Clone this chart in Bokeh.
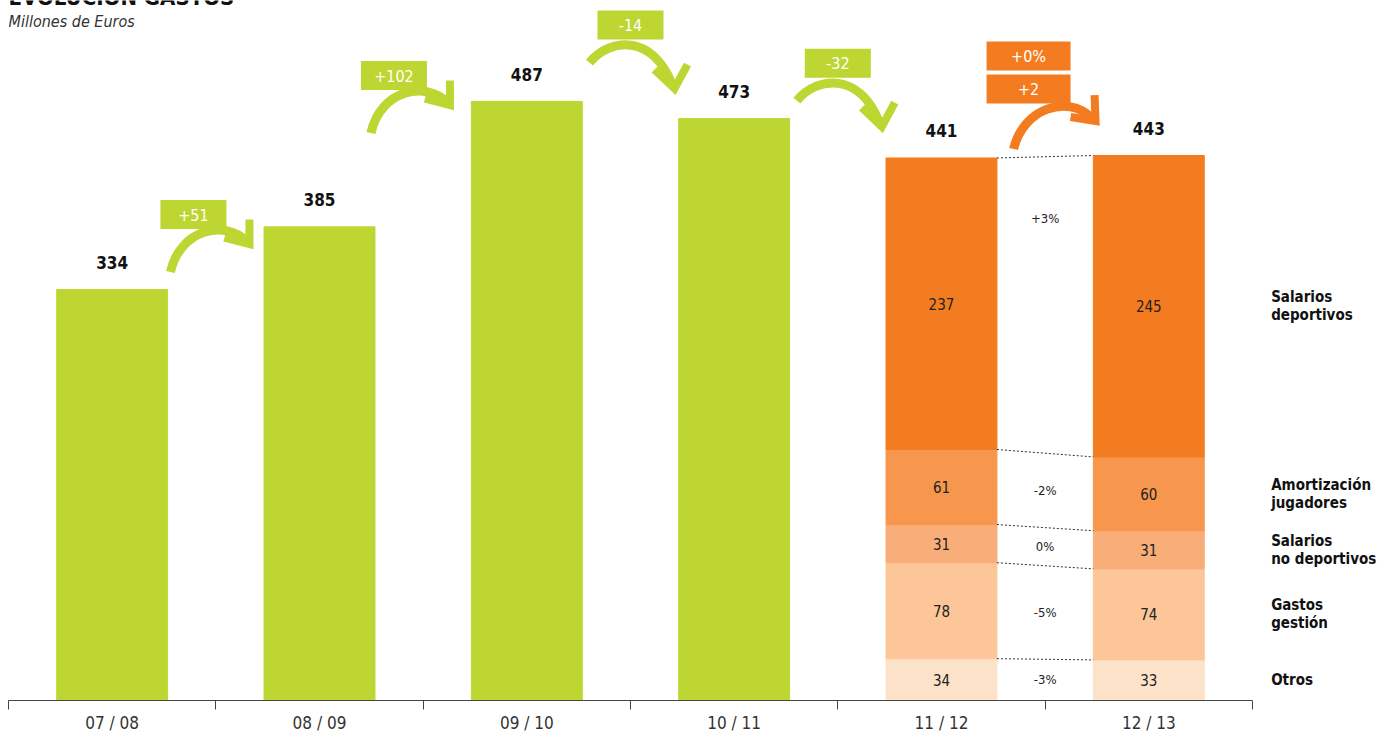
import numpy as np
from bokeh.plotting import figure
from bokeh.models import LinearAxis, FixedTicker, Range1d
from bokeh.core.properties import value
from bokeh.embed import file_html
from bokeh.resources import INLINE

# ---------------- data ----------------
seasons = ["07 / 08", "08 / 09", "09 / 10", "10 / 11", "11 / 12", "12 / 13"]
totals = [334, 385, 487, 473, 441, 443]
change_labels = ["+51", "+102", "-14", "-32", "+2"]
last_change_pct = "+0%"

components = ["Otros", "Gastos\ngestión", "Salarios\nno deportivos",
              "Amortización\njugadores", "Salarios\ndeportivos"]
comp_1112 = [34, 78, 31, 61, 237]
comp_1213 = [33, 74, 31, 60, 245]
comp_pct = ["-3%", "-5%", "0%", "-2%", "+3%"]

# ---------------- style / layout ----------------
GREEN = "#BDD632"
STACK_COLORS = ["#FDE2CA", "#FCC699", "#F9AD78", "#F7974D", "#F47C20"]
ORANGE = "#F47C20"
FONT = "'Liberation Sans Narrow', 'DejaVu Sans Condensed', 'Noto Sans', sans-serif"
SX = 207.33   # px per x unit
SY = 1.232    # px per y unit
W = 0.535     # bar width (data)
LEFT = 8
AXIS_Y = 701
FIG_W, FIG_H = 1380, 735
BORDER_B = FIG_H - AXIS_Y

box_dx = [-0.108, -0.141, 0.0, 0.0, -0.08]
box_dy = [10, 21, 62, 45, 54]
pct_shift = [0, 0, 0, 0, 70]

p = figure(width=FIG_W, height=FIG_H,
           x_range=Range1d(0, (FIG_W - LEFT) / SX), y_range=Range1d(0, AXIS_Y / SY),
           output_backend="svg", toolbar_location=None,
           x_axis_location=None, y_axis_location=None,
           min_border_left=LEFT, min_border_right=0, min_border_top=0,
           min_border_bottom=BORDER_B, outline_line_color=None,
           background_fill_color="white", border_fill_color="white")
p.grid.visible = False

xc = [i + 0.5 for i in range(len(seasons))]

# axis
xaxis = LinearAxis(bounds=(0, len(seasons)),
                   ticker=FixedTicker(ticks=xc, minor_ticks=list(range(len(seasons) + 1))))
xaxis.major_label_overrides = {c: s for c, s in zip(xc, seasons)}
xaxis.major_tick_out = 0
xaxis.major_tick_in = 0
xaxis.minor_tick_out = 9
xaxis.minor_tick_in = 0
xaxis.axis_line_color = "#444"
xaxis.minor_tick_line_color = "#444"
xaxis.major_label_text_font = FONT
xaxis.major_label_text_font_size = "17px"
xaxis.major_label_text_color = "#333"
xaxis.major_label_standoff = 3
p.add_layout(xaxis, "below")

# green bars
p.vbar(x=xc[:4], top=totals[:4], width=W, color=GREEN)

# stacked bars
for k, comps in zip([4, 5], [comp_1112, comp_1213]):
    cum = np.concatenate([[0], np.cumsum(comps)])
    p.vbar(x=[xc[k]] * len(comps), bottom=cum[:-1], top=cum[1:], width=W,
           color=STACK_COLORS)
    mids = (cum[:-1] + cum[1:]) / 2
    p.text(x=[xc[k]] * len(comps), y=mids, text=[str(v) for v in comps],
           text_align="center", text_baseline="middle",
           text_font=value(FONT), text_font_size="15px", text_color="#222")

cum_a = np.cumsum(comp_1112)
cum_b = np.cumsum(comp_1213)
p.segment(x0=[xc[4] + W / 2] * len(cum_a), y0=cum_a, x1=[xc[5] - W / 2] * len(cum_b), y1=cum_b,
          line_dash="2 2", line_color="#333", line_width=1)

mid_a = (np.concatenate([[0], cum_a[:-1]]) + cum_a) / 2
mid_b = (np.concatenate([[0], cum_b[:-1]]) + cum_b) / 2
p.text(x=[5.0] * len(comp_pct), y=(mid_a + mid_b) / 2 + np.array(pct_shift), text=comp_pct,
       text_align="center", text_baseline="middle",
       text_font=value(FONT), text_font_size="13px", text_color="#222")

# right-side labels
p.text(x=[6.09] * len(components), y=mid_b, text=components,
       text_align="left", text_baseline="middle", text_line_height=1.0,
       text_font=value(FONT), text_font_size="15px", text_font_style="bold",
       text_color="#111")

# totals
p.text(x=xc, y=totals, text=[str(v) for v in totals], y_offset=-27,
       text_align="center", text_baseline="middle",
       text_font=value(FONT), text_font_size="17px", text_font_style="bold",
       text_color="#111")

# title (cut at the top edge, as in the original) / subtitle
p.text(x=[0.0], y=[(AXIS_Y + 3) / SY], text=["EVOLUCIÓN GASTOS"],
       text_align="left", text_baseline="alphabetic",
       text_font=value(FONT), text_font_size="22px", text_font_style="bold",
       text_color="#111")
p.text(x=[0.0], y=[(AXIS_Y - 21) / SY], text=["Millones de Euros"],
       text_align="left", text_baseline="middle",
       text_font=value(FONT), text_font_size="16px", text_font_style="italic",
       text_color="#333")


# change arrows
def off(cx, cy, dx, dy):
    return cx + dx / SX, cy - dy / SY


UP = dict(p0=(-23, 57.5), c0=(-13, 13.5), c1=(32, 5.5), p1=(53, 26.5),
          head=[(56, 5), (56, 29.5), (31, 23)])
DOWN = dict(p0=(-41, 37.5), c0=(-20, 12), c1=(22, 10), p1=(41, 58),
            head=[(24, 44.5), (44, 63.5), (57, 39.5)])
UP_WIDE = dict(p0=(-15, 60), c0=(-5, 18), c1=(40, 6), p1=(62, 28),
               head=[(66, 6), (67, 32), (42, 28)])

for i, lab in enumerate(change_labels):
    bx = i + 1 + box_dx[i]
    by = max(totals[i], totals[i + 1]) + box_dy[i]
    last = i == len(change_labels) - 1
    col = ORANGE if last else GREEN
    bw = 84 if last else 66
    diff = totals[i + 1] - totals[i]
    tpl = UP_WIDE if last else (UP if diff > 0 else DOWN)
    x0, y0 = off(bx, by, *tpl["p0"])
    cx0, cy0 = off(bx, by, *tpl["c0"])
    cx1, cy1 = off(bx, by, *tpl["c1"])
    x1, y1 = off(bx, by, *tpl["p1"])
    p.bezier(x0=[x0], y0=[y0], x1=[x1], y1=[y1], cx0=[cx0], cy0=[cy0], cx1=[cx1], cy1=[cy1],
             line_color=col, line_width=9)
    hx, hy = zip(*[off(bx, by, *pt) for pt in tpl["head"]])
    p.line(x=list(hx), y=list(hy), line_color=col, line_width=8, line_join="miter")
    p.rect(x=[bx], y=[by], width=bw, height=29, width_units="screen", height_units="screen",
           fill_color=col, line_color=None)
    p.text(x=[bx], y=[by], text=[lab], text_align="center", text_baseline="middle",
           text_font=value(FONT), text_font_size="16px", text_color="white")
    if last:
        by2 = by + 33 / SY
        p.rect(x=[bx], y=[by2], width=bw, height=29, width_units="screen", height_units="screen",
               fill_color=col, line_color=None)
        p.text(x=[bx], y=[by2], text=[last_change_pct], text_align="center",
               text_baseline="middle", text_font=value(FONT), text_font_size="16px",
               text_color="white")

open("out.html", "w").write(file_html(p, INLINE))
